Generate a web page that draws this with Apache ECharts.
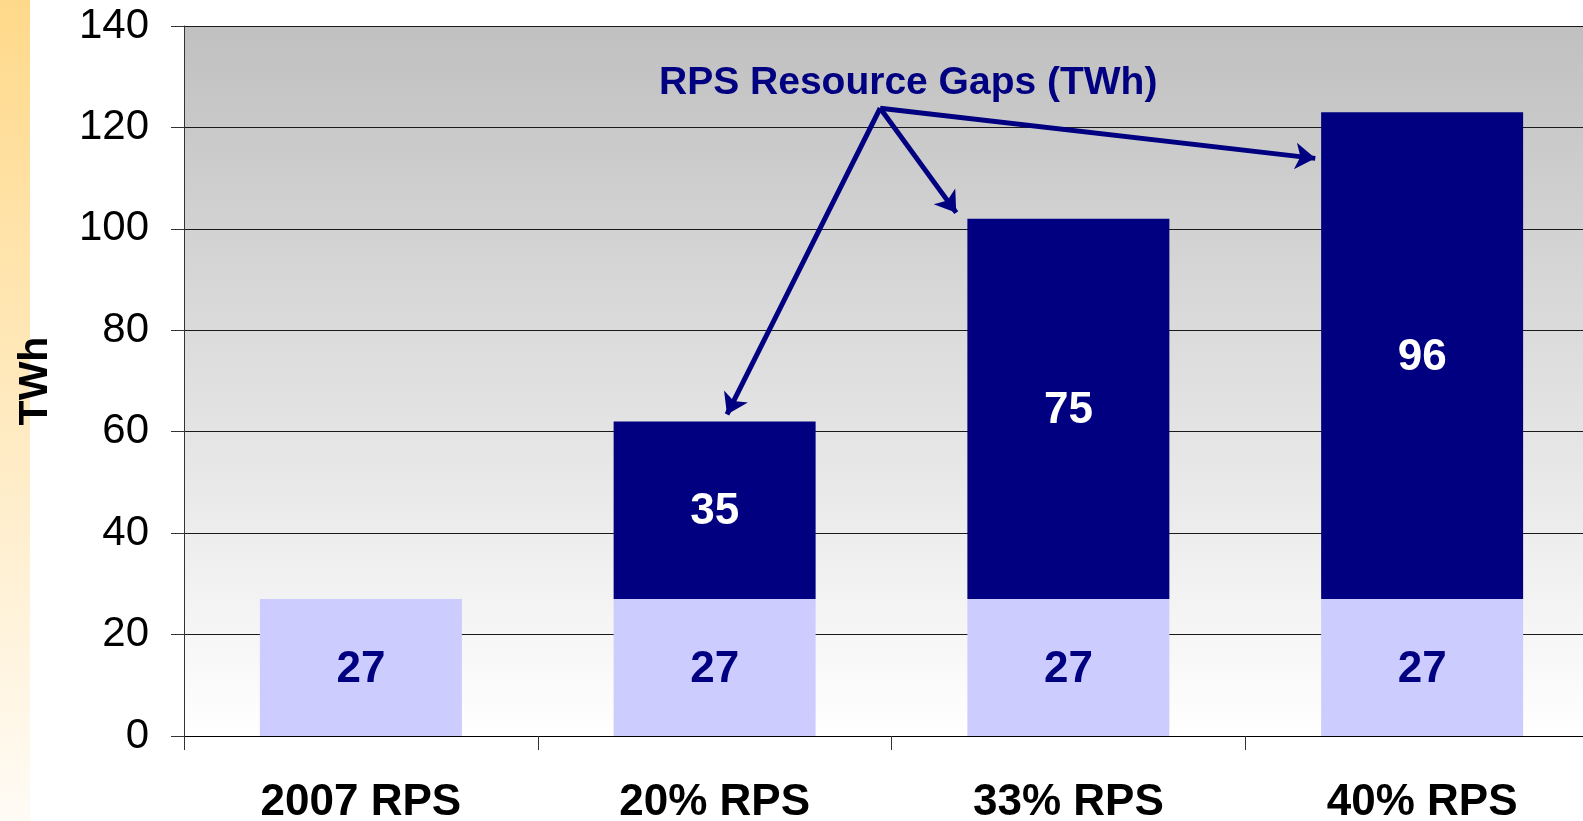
<!DOCTYPE html>
<html>
<head>
<meta charset="utf-8">
<script src="https://cdn.jsdelivr.net/npm/echarts@6/dist/echarts.min.js"></script>
<style>
  html, body { margin: 0; padding: 0; background: #fff; }
  #rpschart { width: 1583px; height: 821px; }
</style>
</head>
<body>
<div id="rpschart"></div>
<script>
  // categories and values
  const categories = ['2007 RPS', '20% RPS', '33% RPS', '40% RPS'];
  const baseValues = [27, 27, 27, 27];
  const gapValues = ['-', 35, 75, 96];
  const yTicks = { min: 0, max: 140, interval: 20 };
  // annotation arrows, in (category index, TWh) units
  const arrowFrom = [1.468, 123.8];
  const arrowTo = [[1.035, 63.4], [1.683, 103.2], [2.698, 113.9]];

  const navy = '#000080';
  const font = 'Arial, "Liberation Sans", sans-serif';

  let chart = echarts.init(document.getElementById('rpschart'), null, {renderer: 'canvas'});

  const option = {
    animation: false,
    backgroundColor: '#fff',
    title: {
      text: 'RPS Resource Gaps (TWh)',
      left: 659,
      top: 64,
      padding: 0,
      textStyle: {color: navy, fontFamily: font, fontWeight: 'bold', fontSize: 39}
    },
    graphic: [{
      type: 'rect',
      left: 0, top: 0,
      shape: {width: 30, height: 821},
      style: {
        fill: new echarts.graphic.LinearGradient(0, 0, 0, 1, [
          {offset: 0, color: '#ffd98a'},
          {offset: 1, color: '#fffbf5'}
        ])
      },
      silent: true
    }],
    grid: {
      left: 184, top: 26, width: 1415, height: 710,
      outerBoundsMode: 'none',
      containLabel: false,
      show: true,
      borderWidth: 0,
      backgroundColor: new echarts.graphic.LinearGradient(0, 0, 0, 1, [
        {offset: 0, color: '#c0c0c0'},
        {offset: 1, color: '#ffffff'}
      ])
    },
    xAxis: [{
      type: 'category',
      data: categories,
      axisLine: {lineStyle: {color: '#000', width: 1}},
      axisTick: {show: true, length: 14, lineStyle: {color: '#333'}},
      splitLine: {show: false},
      axisLabel: {
        color: '#000', fontFamily: font, fontWeight: 'bold', fontSize: 44, margin: 45
      }
    }, {
      type: 'value',
      min: -0.5, max: 3.5,
      show: false,
      splitLine: {show: false}
    }],
    yAxis: {
      type: 'value',
      min: yTicks.min, max: yTicks.max, interval: yTicks.interval,
      name: 'TWh',
      nameLocation: 'middle',
      nameRotate: 90,
      nameGap: 128,
      nameTextStyle: {color: '#000', fontFamily: font, fontWeight: 'bold', fontSize: 41},
      axisLine: {show: true, onZero: false, lineStyle: {color: '#333', width: 1}},
      axisTick: {show: true, length: 13, lineStyle: {color: '#333'}},
      axisLabel: {color: '#000', fontFamily: font, fontSize: 42, margin: 35, padding: [5, 0, 0, 0]},
      splitLine: {show: true, lineStyle: {color: '#1a1a1a', width: 1}}
    },
    series: [{
      name: 'base',
      type: 'bar',
      stack: 'rps',
      data: baseValues,
      barWidth: '57.1%',
      itemStyle: {color: '#ccccff'},
      label: {
        show: true, position: 'inside', offset: [0, 2],
        color: navy, fontFamily: font, fontWeight: 'bold', fontSize: 44
      }
    }, {
      name: 'gap',
      type: 'bar',
      stack: 'rps',
      data: gapValues,
      barWidth: '57.1%',
      itemStyle: {color: navy},
      label: {
        show: true, position: 'inside', offset: [0, 2],
        color: '#fff', fontFamily: font, fontWeight: 'bold', fontSize: 44
      }
    }, {
      name: 'arrows',
      type: 'lines',
      coordinateSystem: 'cartesian2d',
      xAxisIndex: 1,
      yAxisIndex: 0,
      z: 10,
      symbol: ['none', 'arrow'],
      symbolSize: 20,
      lineStyle: {color: navy, width: 5, opacity: 1, curveness: 0},
      data: arrowTo.map(function (p) { return {coords: [arrowFrom, p]}; })
    }]
  };

  chart.setOption(option, true);
</script>
</body>
</html>
